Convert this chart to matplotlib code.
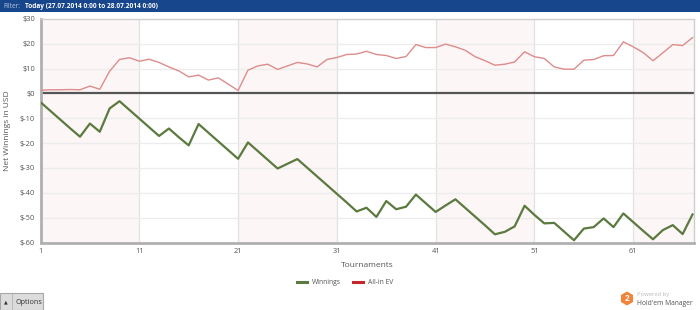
import matplotlib
matplotlib.use("Agg")
import matplotlib.pyplot as plt
from matplotlib.patches import Polygon, Rectangle
from matplotlib.lines import Line2D
import numpy as np

plt.rcParams['font.family'] = ['Open Sans', 'DejaVu Sans']

tournaments = list(range(1, 68))
winnings = [-3.5, -7.0, -10.5, -14.0, -17.4, -12.1, -15.4, -6.0, -3.1, -6.6,
            -10.1, -13.6, -17.1, -14.1, -17.6, -20.9, -12.3, -15.8, -19.3, -22.8,
            -26.3, -19.7, -23.2, -26.7, -30.2, -28.3, -26.4, -29.9, -33.4, -36.9,
            -40.4, -43.9, -47.5, -46.0, -49.7, -43.3, -46.6, -45.6, -40.7, -44.2,
            -47.7, -45.1, -42.6, -46.1, -49.6, -53.1, -56.7, -55.7, -53.5, -45.2,
            -48.9, -52.3, -52.1, -55.6, -59.1, -54.4, -53.8, -50.3, -53.8, -48.3,
            -51.8, -55.3, -58.7, -55.0, -53.0, -56.6, -48.7]
allin_ev = [1.3, 1.5, 1.5, 1.6, 1.5, 3.0, 1.7, 9.0, 13.7, 14.4,
            13.0, 13.8, 12.5, 10.7, 9.1, 6.7, 7.4, 5.4, 6.3, 3.8,
            1.2, 9.4, 11.1, 11.8, 9.7, 11.1, 12.5, 11.9, 10.7, 13.7,
            14.5, 15.7, 15.9, 17.0, 15.7, 15.3, 14.1, 14.9, 19.7, 18.5,
            18.5, 19.9, 18.8, 17.4, 14.8, 13.2, 11.4, 11.8, 12.7, 16.8,
            14.8, 14.1, 10.7, 9.8, 9.8, 13.4, 13.7, 15.2, 15.3, 20.8,
            18.8, 16.5, 13.2, 16.4, 19.7, 19.3, 22.5]
x_ticks = [1, 11, 21, 31, 41, 51, 61]
y_ticks = [30, 20, 10, 0, -10, -20, -30, -40, -50, -60]
y_tick_labels = ["$30", "$20", "$10", "$0", "$-10", "$-20", "$-30", "$-40", "$-50", "$-60"]

W, H = 700, 310
fig = plt.figure(figsize=(7, 3.1), dpi=100)
fig.patch.set_facecolor('white')

def fx(px):
    return px / W

def fy(py):
    return 1 - py / H

# top banner
fig.patches.append(Rectangle((0, fy(11.5)), 1, 11.5 / H, transform=fig.transFigure,
                             facecolor='#17468c', edgecolor='none', zorder=0))
fig.text(fx(3), fy(6), "Filter:", color='#b9c8e0', fontsize=4.7, va='center', ha='left')
fig.text(fx(25), fy(6), "Today (27.07.2014 0:00 to 28.07.2014 0:00)", color='white',
         fontsize=4.7, va='center', ha='left', fontweight='bold')

ax = fig.add_axes([fx(40.5), fy(242.5), fx(694) - fx(40.5), fy(19) - fy(242.5)])
ax.set_xlim(1, 67.15)
ax.set_ylim(-60, 30)

# alternating bands
bands = [(1, 11), (21, 31), (41, 51), (61, 68)]
for a, b in bands:
    ax.axvspan(a, b, facecolor='#fcf6f6', edgecolor='none', zorder=0)
for t in x_ticks[1:]:
    ax.axvline(t, color='#e2e2e2', lw=0.9, zorder=1)
for v in y_ticks:
    if v not in (0, 30, -60):
        ax.axhline(v, color='#ececec', lw=0.9, zorder=1)
ax.axhline(0, color='#555555', lw=1.6, zorder=2)

ax.plot(tournaments, allin_ev, color='#de8c8c', lw=1.0, zorder=3)
ax.plot(tournaments, winnings, color='#5b7a3f', lw=1.6, zorder=4)

ax.set_xticks(x_ticks)
ax.set_xticklabels([str(t) for t in x_ticks])
ax.set_yticks(y_ticks)
ax.set_yticklabels(y_tick_labels)
ax.tick_params(axis='both', length=0, labelsize=5.4, colors='#555555')
ax.tick_params(axis='x', pad=4)
ax.tick_params(axis='y', pad=4)

for side in ['top', 'right']:
    ax.spines[side].set_color('#cfcfcf')
    ax.spines[side].set_linewidth(1.0)
for side in ['left', 'bottom']:
    ax.spines[side].set_color('#b0b0b0')
    ax.spines[side].set_linewidth(2.0)

ax.set_xlabel("Tournaments", fontsize=6.0, color='#555555', labelpad=5)
ax.set_ylabel("Net Winnings in USD", fontsize=6.0, color='#555555', labelpad=6)

handles = [Line2D([], [], color='#5b7a3f', lw=2.2), Line2D([], [], color='#c4262c', lw=2.2)]
fig.legend(handles, ["Winnings", "All-in EV"], loc='center', bbox_to_anchor=(fx(345), fy(283)),
           ncol=2, frameon=False, fontsize=4.9, handlelength=1.5, handletextpad=0.7,
           columnspacing=1.8, labelcolor='#555555')

# Options button
fig.patches.append(Rectangle((0, fy(310)), fx(43), 17 / H, transform=fig.transFigure,
                             facecolor='#dcdcdc', edgecolor='#a8a8a8', lw=0.8, zorder=1))
fig.lines.append(Line2D([fx(12), fx(12)], [fy(309), fy(294)], transform=fig.transFigure,
                        color='#b5b5b5', lw=0.6))
fig.text(fx(6), fy(302), "\u25b2", fontsize=3.5, color='#333333', ha='center', va='center',
         family=['DejaVu Sans'])
fig.text(fx(15), fy(302), "Options", fontsize=5.2, color='#333333', ha='left', va='center')

# Powered by Hold'em Manager logo (pointy-top hexagon, built in pixel units)
cx, cy, r = 627, 298.5, 7.0
ang = np.deg2rad(np.arange(90, 450, 60))
hex_pts = [(fx(cx + r * np.cos(a)), fy(cy - r * np.sin(a))) for a in ang]
fig.patches.append(Polygon(hex_pts, closed=True, transform=fig.transFigure,
                           facecolor='#f0843a', edgecolor='none'))
fig.text(fx(cx), fy(cy), "2", fontsize=5.8, color='white', fontweight='bold',
         ha='center', va='center')
fig.text(fx(637), fy(294.5), "Powered by", fontsize=4.2, color='#bbbbbb', ha='left', va='center')
fig.text(fx(637), fy(303.5), "Hold'em Manager", fontsize=4.9, color='#555555', ha='left', va='center')

fig.savefig("out.png", dpi=100, facecolor='white')
